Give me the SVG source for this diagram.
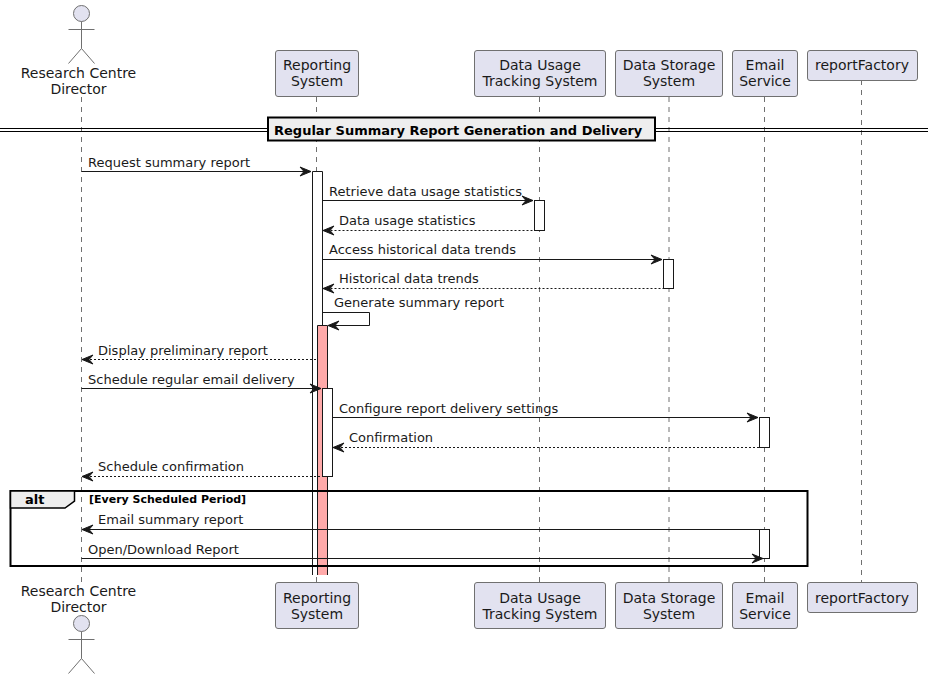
<svg xmlns="http://www.w3.org/2000/svg" width="928" height="679" viewBox="0 0 928 679">
<style>
text{font-family:"DejaVu Sans",sans-serif;fill:#000}
.p{font-size:14px;text-anchor:middle;fill:#1a1a1a}
.m{font-size:13px;fill:#1a1a1a}
.b{fill:#E2E2F0;stroke:#707070;stroke-width:1}
.ll{stroke:#707070;stroke-width:1;stroke-dasharray:5 5;fill:none}
.s{stroke:#181818;stroke-width:1;fill:none}
.d{stroke:#181818;stroke-width:1;stroke-dasharray:2 2;fill:none}
.a{fill:#fff;stroke:#181818;stroke-width:1}
.h{fill:#181818;stroke:#181818;stroke-width:1}
.ac{fill:none;stroke:#707070;stroke-width:1}
</style>
<defs>
<path id="ar" class="h" d="M-11,-4.5 L0,0 L-11,4.5 L-7,0 Z"/>
<path id="al" class="h" d="M11,-4.5 L0,0 L11,4.5 L7,0 Z"/>
<g id="actor"><circle cx="0" cy="0" r="8" fill="#E2E2F0" stroke="#707070"/><path class="ac" d="M0,8 V35 M-13,16 H13 M-13,50 L0,35 L13,50"/></g>
</defs>
<g id="lifelines">
<path class="ll" d="M81.5,97 V582"/><path class="ll" d="M316.5,97 V582"/><path class="ll" d="M539.5,97 V582"/><path class="ll" d="M669,97 V582"/><path class="ll" d="M764.5,97 V582"/><path class="ll" d="M861.5,80 V582"/>
</g>
<g id="activations">
<path d="M312.5,575 V171.5 H322.5 V575 Z" fill="#fff"/>
<path class="s" d="M312.5,575 V171.5 H322.5 V575"/>
<path d="M317.5,575 V325.5 H327.5 V575 Z" fill="#FFAAAA"/>
<path class="s" d="M317.5,575 V325.5 H327.5 V575"/>
<rect class="a" x="322.5" y="388.5" width="10" height="88"/>
<rect class="a" x="534.5" y="200.5" width="10" height="30"/>
<rect class="a" x="663.5" y="259.5" width="10" height="29"/>
<rect class="a" x="759.5" y="417.5" width="10" height="30"/>
<rect class="a" x="759.5" y="529.5" width="10" height="29"/>
</g>
<g id="divider">
<path d="M0,128.5 H928 M0,131.5 H928" stroke="#000" stroke-width="1.2" fill="none"/>
<rect x="268" y="117.5" width="387" height="23" fill="#EEEEEE" stroke="#000" stroke-width="2"/>
<text x="274" y="135" style="font-size:13px;font-weight:bold">Regular Summary Report Generation and Delivery</text>
</g>
<g id="connectors">
<path class="s" d="M81.5,171.5 H311"/><use href="#ar" x="311" y="171.5"/>
<text class="m" x="88" y="167">Request summary report</text>
<path class="s" d="M322.5,200.5 H533"/><use href="#ar" x="533" y="200.5"/>
<text class="m" x="329" y="196">Retrieve data usage statistics</text>
<path class="d" d="M322.5,230.5 H534"/><use href="#al" x="323" y="230.5"/>
<text class="m" x="339" y="225">Data usage statistics</text>
<path class="s" d="M322.5,259.5 H662"/><use href="#ar" x="662" y="259.5"/>
<text class="m" x="329" y="254">Access historical data trends</text>
<path class="d" d="M322.5,288.5 H663"/><use href="#al" x="323" y="288.5"/>
<text class="m" x="339" y="283">Historical data trends</text>
<path class="s" d="M322.5,312.5 H369.5 V325.5 H329"/><use href="#al" x="328" y="325.5"/>
<text class="m" x="334" y="307">Generate summary report</text>
<path class="d" d="M82,359.5 H317"/><use href="#al" x="82" y="359.5"/>
<text class="m" x="98" y="355">Display preliminary report</text>
<path class="s" d="M81.5,388.5 H321"/><use href="#ar" x="321" y="388.5"/>
<text class="m" x="88" y="384">Schedule regular email delivery</text>
<path class="s" d="M332.5,417.5 H758"/><use href="#ar" x="758" y="417.5"/>
<text class="m" x="339" y="413">Configure report delivery settings</text>
<path class="d" d="M333,447.5 H759"/><use href="#al" x="333" y="447.5"/>
<text class="m" x="349" y="442">Confirmation</text>
<path class="d" d="M82,476.5 H322"/><use href="#al" x="82" y="476.5"/>
<text class="m" x="98" y="471">Schedule confirmation</text>
<path class="s" d="M82,529.5 H759"/><use href="#al" x="82" y="529.5"/>
<text class="m" x="98" y="524">Email summary report</text>
<path class="s" d="M81.5,558.5 H763"/><use href="#ar" x="763" y="558.5"/>
<text class="m" x="88" y="554">Open/Download Report</text>
</g>
<g id="alt">
<rect x="10.5" y="491" width="797" height="75" fill="none" stroke="#000" stroke-width="2"/>
<path d="M10.5,491 H74.5 V501 L65,508 H10.5 Z" fill="#EEEEEE" stroke="#000" stroke-width="1.5"/>
<text x="25" y="504" style="font-size:13px;font-weight:bold">alt</text>
<text x="89" y="503" style="font-size:11px;font-weight:bold">[Every Scheduled Period]</text>
</g>
<g id="p1-top"><use href="#actor" x="81.5" y="13.5"/><text class="p" x="78.5" y="78">Research Centre</text><text class="p" x="78.5" y="94">Director</text></g>
<g id="p2-top"><rect class="b" x="275.5" y="50.5" width="83" height="46" rx="2.5"/><text class="p" x="317" y="70">Reporting</text><text class="p" x="317" y="86">System</text></g>
<g id="p3-top"><rect class="b" x="474.5" y="50.5" width="131" height="46" rx="2.5"/><text class="p" x="540" y="70">Data Usage</text><text class="p" x="540" y="86">Tracking System</text></g>
<g id="p4-top"><rect class="b" x="615.5" y="50.5" width="107" height="46" rx="2.5"/><text class="p" x="669" y="70">Data Storage</text><text class="p" x="669" y="86">System</text></g>
<g id="p5-top"><rect class="b" x="732.5" y="50.5" width="65" height="46" rx="2.5"/><text class="p" x="765" y="70">Email</text><text class="p" x="765" y="86">Service</text></g>
<g id="p6-top"><rect class="b" x="807.5" y="50.5" width="110" height="30" rx="2.5"/><text class="p" x="862" y="70">reportFactory</text></g>
<g id="p1-bottom"><use href="#actor" x="81.5" y="623.5"/><text class="p" x="78.5" y="596">Research Centre</text><text class="p" x="78.5" y="612">Director</text></g>
<g id="p2-bottom"><rect class="b" x="275.5" y="582.5" width="83" height="46" rx="2.5"/><text class="p" x="317" y="603">Reporting</text><text class="p" x="317" y="619">System</text></g>
<g id="p3-bottom"><rect class="b" x="474.5" y="582.5" width="131" height="46" rx="2.5"/><text class="p" x="540" y="603">Data Usage</text><text class="p" x="540" y="619">Tracking System</text></g>
<g id="p4-bottom"><rect class="b" x="615.5" y="582.5" width="107" height="46" rx="2.5"/><text class="p" x="669" y="603">Data Storage</text><text class="p" x="669" y="619">System</text></g>
<g id="p5-bottom"><rect class="b" x="732.5" y="582.5" width="65" height="46" rx="2.5"/><text class="p" x="765" y="603">Email</text><text class="p" x="765" y="619">Service</text></g>
<g id="p6-bottom"><rect class="b" x="807.5" y="582.5" width="110" height="30" rx="2.5"/><text class="p" x="862" y="603">reportFactory</text></g>
</svg>
